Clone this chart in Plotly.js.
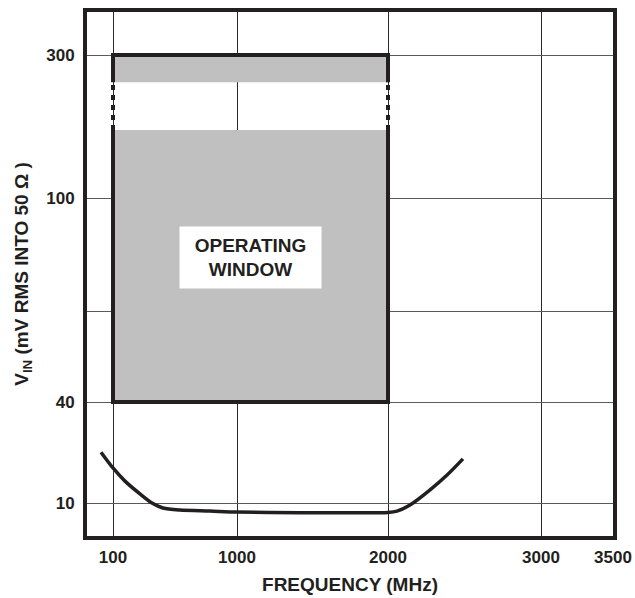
<!DOCTYPE html>
<html>
<head>
<meta charset="utf-8">
<script src="https://cdn.plot.ly/plotly-3.0.1.min.js"></script>
<style>
  html, body { margin: 0; padding: 0; background: #ffffff; }
  #chart { width: 635px; height: 598px; }
</style>
</head>
<body>
<div id="chart"></div>
<script>
// ---------- data ----------
const xTickValues = [100, 1000, 2000, 3000, 3500];          // MHz
const xTickLabels = ['100', '1000', '2000', '3000', '3500'];
const yGridValues = [10, 40, 60, 100, 300];                  // mV RMS
const yTickLabels = ['10', '40', ' ', '100', '300'];

// minimum input sensitivity curve
const freqMHz = [13, 100, 187, 296, 383, 463, 586, 804, 1000, 1417, 1748, 2000, 2059, 2144, 2275, 2386, 2490];
const vinMin  = [25.1, 20.4, 16.5, 12.7, 10.0, 8.5, 7.9, 7.6, 7.3, 7.1, 7.1, 7.2, 7.6, 9.4, 13.9, 18.3, 23.1];

// operating window
const windowFreq = [100, 2000];      // MHz
const windowVin  = [40, 300];        // mV
const windowGap  = [195, 262];       // mV, undefined (dotted) band

// ---------- non-uniform axis scales (as printed on the datasheet) ----------
const xScale = { values: xTickValues, pos: [26, 150, 301, 454, 526], range: [0, 526] };
const yScale = { values: yGridValues, pos: [33, 134, 225, 338, 481], range: [0, 524] };

function mapScale(v, s) {
  if (v === null) return null;
  const vals = s.values, pos = s.pos;
  let i = 0;
  while (i < vals.length - 2 && v > vals[i + 1]) i++;
  return pos[i] + (v - vals[i]) * (pos[i + 1] - pos[i]) / (vals[i + 1] - vals[i]);
}
const X = v => mapScale(v, xScale);
const Y = v => mapScale(v, yScale);

const INK = '#231f20';
const FILL = '#c0c0c0';
const FONT = 'Liberation Sans, Arial, Helvetica, sans-serif';

const [f0, f1] = windowFreq;
const [vLo, vHi] = windowVin;
const [gLo, gHi] = windowGap;

const traces = [
  // lower grey area
  {
    x: [f0, f1, f1, f0, f0].map(X),
    y: [vLo, vLo, gLo, gLo, vLo].map(Y),
    mode: 'lines', fill: 'toself', fillcolor: FILL,
    line: { width: 0, color: FILL }, hoverinfo: 'skip'
  },
  // upper grey band
  {
    x: [f0, f1, f1, f0, f0].map(X),
    y: [gHi, gHi, vHi, vHi, gHi].map(Y),
    mode: 'lines', fill: 'toself', fillcolor: FILL,
    line: { width: 0, color: FILL }, hoverinfo: 'skip'
  },
  // solid window borders
  {
    x: [f0, f0, f1, f1, null, f0, f0, f1, f1].map(X),
    y: [gHi, vHi, vHi, gHi, null, gLo, vLo, vLo, gLo].map(Y),
    mode: 'lines', connectgaps: false,
    line: { width: 4, color: INK }, hoverinfo: 'skip'
  },
  // dotted borders across the gap
  {
    x: [f0, f0, null, f1, f1].map(X),
    y: [gLo, gHi, null, gLo, gHi].map(Y),
    mode: 'lines', connectgaps: false,
    line: { width: 4, color: INK, dash: '5px,5px' }, hoverinfo: 'skip'
  },
  // sensitivity curve
  {
    x: freqMHz.map(X),
    y: vinMin.map(Y),
    mode: 'lines',
    line: { width: 3.5, color: INK, shape: 'spline', smoothing: 0.8 },
    hoverinfo: 'skip'
  }
];

const layout = {
  width: 635, height: 598,
  margin: { l: 87, r: 22, t: 12, b: 62 },
  paper_bgcolor: '#ffffff', plot_bgcolor: '#ffffff',
  showlegend: false,
  font: { family: FONT, color: INK },
  xaxis: {
    range: xScale.range, fixedrange: true,
    tickmode: 'array', tickvals: xTickValues.map(X), ticktext: xTickLabels,
    ticks: '', ticklabelstandoff: 3,
    tickfont: { family: FONT, size: 17, weight: 'bold', color: INK },
    showgrid: true, gridcolor: '#2a2a2a', gridwidth: 1,
    zeroline: false,
    showline: true, mirror: true, linecolor: INK, linewidth: 4,
    title: { text: 'FREQUENCY (MHz)', standoff: 12,
             font: { family: FONT, size: 19, weight: 'bold', color: INK } }
  },
  yaxis: {
    range: yScale.range, fixedrange: true,
    tickmode: 'array', tickvals: yGridValues.map(Y), ticktext: yTickLabels,
    ticks: '', ticklabelstandoff: 5,
    tickfont: { family: FONT, size: 17, weight: 'bold', color: INK },
    showgrid: true, gridcolor: '#5a5a5a', gridwidth: 1,
    zeroline: false,
    showline: true, mirror: true, linecolor: INK, linewidth: 4,
    title: { text: 'V<sub>IN</sub> (mV RMS INTO 50 Ω )', standoff: 14,
             font: { family: FONT, size: 19, weight: 'bold', color: INK } }
  },
  annotations: [{
    xref: 'x', yref: 'paper',
    x: (X(f0) + X(f1)) / 2, y: 0.5315,
    text: 'OPERATING<br>WINDOW', showarrow: false,
    bgcolor: '#ffffff', width: 139, height: 59,
    align: 'center', valign: 'middle',
    font: { family: FONT, size: 19, weight: 'bold', color: INK }
  }]
};

Plotly.newPlot('chart', traces, layout, { staticPlot: true, displayModeBar: false });
</script>
</body>
</html>
